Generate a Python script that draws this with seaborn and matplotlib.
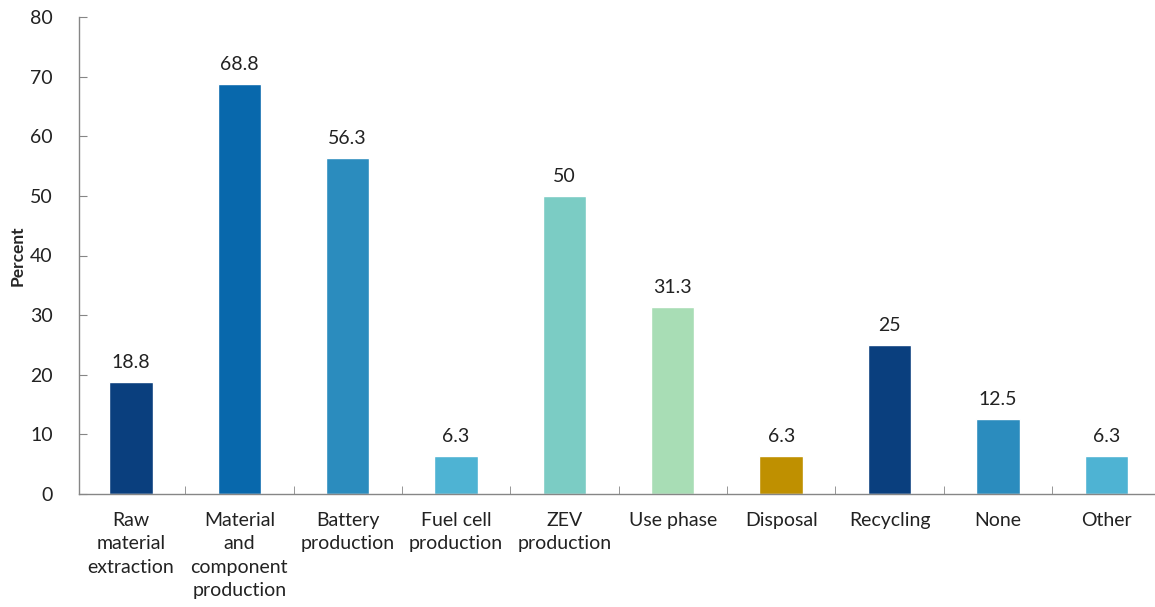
import matplotlib
matplotlib.use("Agg")
import matplotlib.pyplot as plt
import seaborn as sns
import pandas as pd
import numpy as np
from matplotlib.ticker import FixedLocator

categories = ["Raw\nmaterial\nextraction", "Material\nand\ncomponent\nproduction",
              "Battery\nproduction", "Fuel cell\nproduction", "ZEV\nproduction",
              "Use phase", "Disposal", "Recycling", "None", "Other"]
values = [18.8, 68.8, 56.3, 6.3, 50, 31.3, 6.3, 25, 12.5, 6.3]
value_labels = ["18.8", "68.8", "56.3", "6.3", "50", "31.3", "6.3", "25", "12.5", "6.3"]
colors = ["#0A3F7E", "#0868AC", "#2B8CBE", "#4EB3D3", "#7BCCC4",
          "#A8DDB5", "#BF9000", "#0A3F7E", "#2B8CBE", "#4EB3D3"]

sns.set_style("white")
plt.rcParams["font.family"] = ["Lato", "DejaVu Sans"]

fig = plt.figure(figsize=(11.55, 6.07), dpi=100)
ax = fig.add_axes([79/1155, 1 - 494/607, 1 - 79/1155, (494 - 17)/607])

df = pd.DataFrame({"cat": categories, "val": values})
sns.barplot(data=df, x="cat", y="val", hue="cat", palette=colors, legend=False,
            width=0.4, ax=ax, saturation=1)

for i, cont in enumerate(ax.containers):
    ax.bar_label(cont, labels=[value_labels[i]], padding=8, fontsize=14, color="#222222")

ax.set_xlim(-0.48, 9.45)
ax.set_ylim(0, 80)
ax.set_yticks(np.arange(0, 81, 10))
ax.set_xlabel("")
ax.set_ylabel("Percent", fontsize=12.5, fontweight="bold")
ax.yaxis.set_label_coords(-53/1076, 0.5)

for s in ["top", "right"]:
    ax.spines[s].set_visible(False)
for s in ["left", "bottom"]:
    ax.spines[s].set_color("#868686")
    ax.spines[s].set_linewidth(1)

ax.tick_params(axis="y", direction="in", length=6, color="#868686", labelsize=14,
               pad=19, left=True)
ax.tick_params(axis="x", which="major", length=0, labelsize=14, pad=13)
ax.xaxis.set_minor_locator(FixedLocator(np.arange(0.5, 9.5, 1)))
ax.tick_params(axis="x", which="minor", direction="in", length=6, color="#868686", bottom=True)
for t in ax.get_xticklabels():
    t.set_linespacing(1.45)
    t.set_color("#222222")
for t in ax.get_yticklabels():
    t.set_color("#222222")

fig.savefig("out.png", dpi=100)
